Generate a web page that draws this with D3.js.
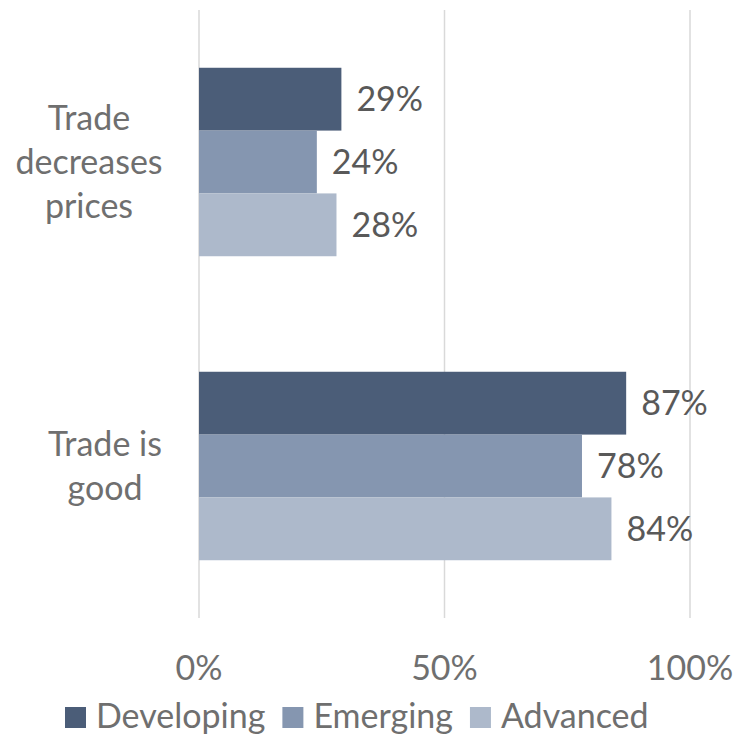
<!DOCTYPE html>
<html>
<head>
<meta charset="utf-8">
<script src="https://cdn.jsdelivr.net/npm/d3@7"></script>
<style>
body { margin: 0; background: #fff; }
text { font-family: Lato, "Open Sans", sans-serif; }
</style>
</head>
<body>
<div id="chart"></div>
<script>
var categories = ["Trade decreases prices", "Trade is good"];
var catLines = [["Trade", "decreases", "prices"], ["Trade is", "good"]];
var seriesNames = ["Developing", "Emerging", "Advanced"];
var developing = [29, 87];
var emerging = [24, 78];
var advanced = [28, 84];
var ticks = [0, 50, 100];

var colours = ["#4b5d78", "#8596b0", "#adb9cb"];
var W = 737, H = 737;
var fs = 34;
var labelCentre = [89, 105]; // excel centres each wrapped label in its own box

var svg = d3.select("#chart").append("svg")
	.attr("width", W)
	.attr("height", H);

var x = d3.scaleLinear().domain([0, 100]).range([199, 690]);
var y = d3.scaleBand().domain(categories).range([10, 618]).paddingInner(0.38).paddingOuter(0.19);
var ySub = d3.scaleBand().domain(seriesNames).range([0, y.bandwidth()]);

// gridlines
svg.append("g")
	.selectAll("line")
	.data(ticks)
	.enter()
	.append("line")
	.attr("x1", function(d){ return x(d); })
	.attr("x2", function(d){ return x(d); })
	.attr("y1", 10)
	.attr("y2", 618)
	.attr("stroke", "#d9d9d9")
	.attr("stroke-width", 1.5);

var rows = categories.map(function(c, i){
	return [developing[i], emerging[i], advanced[i]].map(function(v, j){
		return {cat: c, series: seriesNames[j], value: v, col: colours[j]};
	});
});

var groups = svg.append("g")
	.selectAll("g")
	.data(rows)
	.enter()
	.append("g")
	.attr("transform", function(d, i){ return "translate(0," + y(categories[i]) + ")"; });

groups.selectAll("rect")
	.data(function(d){ return d; })
	.enter()
	.append("rect")
	.attr("x", x(0))
	.attr("y", function(d){ return ySub(d.series); })
	.attr("width", function(d){ return x(d.value) - x(0); })
	.attr("height", ySub.bandwidth())
	.attr("fill", function(d){ return d.col; });

groups.selectAll("text")
	.data(function(d){ return d; })
	.enter()
	.append("text")
	.attr("x", function(d){ return x(d.value) + 15; })
	.attr("y", function(d){ return ySub(d.series) + ySub.bandwidth() / 2; })
	.attr("dy", "0.35em")
	.attr("font-size", fs)
	.attr("fill", "#595959")
	.text(function(d){ return d.value + "%"; });

// category labels
categories.forEach(function(c, i){
	var lines = catLines[i];
	var cy = y(c) + y.bandwidth() / 2;
	var lh = 44;
	var t = svg.append("text")
		.attr("text-anchor", "middle")
		.attr("font-size", fs)
		.attr("fill", "#6f6f6f");
	lines.forEach(function(l, k){
		t.append("tspan")
			.attr("x", labelCentre[i])
			.attr("y", cy + (k - (lines.length - 1) / 2) * lh)
			.attr("dy", "0.35em")
			.text(l);
	});
});

// x axis labels
svg.append("g")
	.selectAll("text")
	.data(ticks)
	.enter()
	.append("text")
	.attr("x", function(d){ return x(d); })
	.attr("y", 680)
	.attr("text-anchor", "middle")
	.attr("font-size", fs)
	.attr("fill", "#6f6f6f")
	.text(function(d){ return d + "%"; });

// legend
var legend = svg.append("g");
var lx = 65;
seriesNames.forEach(function(s, i){
	legend.append("rect")
		.attr("x", lx)
		.attr("y", 707)
		.attr("width", 21)
		.attr("height", 21)
		.attr("fill", colours[i]);
	var t = legend.append("text")
		.attr("x", lx + 31)
		.attr("y", 728)
		.attr("font-size", fs)
		.attr("fill", "#6f6f6f")
		.text(s);
	lx += 31 + t.node().getComputedTextLength() + 17;
});
</script>
</body>
</html>
